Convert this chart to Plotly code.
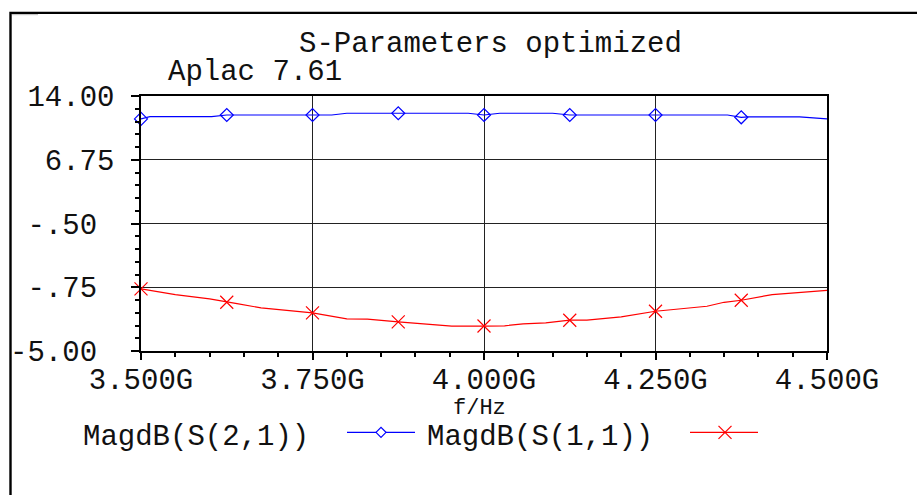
import plotly.graph_objects as go

# ---------------- data ----------------
x_tick_vals = [3.5, 3.75, 4.0, 4.25, 4.5]
x_tick_text = ["3.500G", "3.750G", "4.000G", "4.250G", "4.500G"]
y_tick_vals = [14.0, 6.75, -0.5, -7.75, -15.0]
y_tick_text = ["14.00", "6.75", "-.50\u00a0", "-.75\u00a0", "-5.00\u00a0"]

s21_line_freq = [3.500, 3.513, 3.603, 3.625, 3.778, 3.800, 3.875, 3.977, 4.000,
                 4.023, 4.100, 4.125, 4.250, 4.355, 4.375, 4.385, 4.460, 4.500]
s21_line_val = [11.39, 11.65, 11.65, 11.84, 11.84, 12.04, 12.04, 12.04, 11.84,
                12.04, 12.04, 11.84, 11.84, 11.84, 11.58, 11.62, 11.62, 11.39]

s11_line_freq = [3.500, 3.550, 3.600, 3.625, 3.640, 3.675, 3.750, 3.800, 3.830,
                 3.875, 3.907, 3.953, 4.000, 4.030, 4.057, 4.090, 4.125, 4.150,
                 4.200, 4.250, 4.325, 4.350, 4.375, 4.420, 4.500]
s11_line_val = [-7.94, -8.59, -9.07, -9.46, -9.61, -10.10, -10.66, -11.34, -11.37,
                -11.69, -11.91, -12.18, -12.16, -12.14, -11.91, -11.80, -11.50, -11.48,
                -11.12, -10.48, -9.91, -9.46, -9.23, -8.59, -8.10]

marker_freq = [3.500, 3.625, 3.750, 3.875, 4.000, 4.125, 4.250, 4.375]
s21_marker_val = [11.39, 11.84, 11.84, 12.04, 11.84, 11.84, 11.84, 11.58]
s11_marker_val = [-7.94, -9.46, -10.66, -11.69, -12.16, -11.50, -10.48, -9.23]

series_names = ["MagdB(S(2,1))", "MagdB(S(1,1))"]
title_text = "S-Parameters optimized"
subtitle_text = "Aplac 7.61"
x_title = "f/Hz"

# ---------------- layout geometry (pixels) ----------------
W, H = 917, 495
PL, PR, PT, PB = 141, 827, 96, 351.5
X0, X1 = 3.5, 4.5
Y0, Y1 = -15.0, 14.0


def px(xp):
    return (xp - PL) / (PR - PL)


def py(yp):
    return (PB - yp) / (PB - PT)


FONT = "Liberation Mono"
FS = 29
TXT = "#111111"
BLUE = "#0000ff"
RED = "#ff0000"
GRID = "#222222"
LW = 1.2

fig = go.Figure()

fig.add_trace(go.Scatter(x=s21_line_freq, y=s21_line_val, mode="lines",
                         line=dict(color=BLUE, width=LW), showlegend=False))
fig.add_trace(go.Scatter(x=marker_freq, y=s21_marker_val, mode="markers",
                         marker=dict(symbol="diamond-open", size=10, color=BLUE,
                                     line=dict(width=LW, color=BLUE)),
                         showlegend=False, cliponaxis=False))
fig.add_trace(go.Scatter(x=s11_line_freq, y=s11_line_val, mode="lines",
                         line=dict(color=RED, width=LW), showlegend=False))
fig.add_trace(go.Scatter(x=marker_freq, y=s11_marker_val, mode="markers",
                         marker=dict(symbol="x-thin-open", size=13, color=RED,
                                     line=dict(width=LW, color=RED)),
                         showlegend=False, cliponaxis=False))


def diamond_path(cx, cy, r):
    return (f"M {px(cx - r)} {py(cy)} L {px(cx)} {py(cy - r)} "
            f"L {px(cx + r)} {py(cy)} L {px(cx)} {py(cy + r)} Z")


LEG_Y = 433
shapes = [
    # legend samples
    dict(type="line", xref="paper", yref="paper", x0=px(347), x1=px(415),
         y0=py(LEG_Y), y1=py(LEG_Y), line=dict(color=BLUE, width=LW)),
    dict(type="path", xref="paper", yref="paper", path=diamond_path(381, LEG_Y, 5),
         fillcolor="white", line=dict(color=BLUE, width=LW)),
    dict(type="line", xref="paper", yref="paper", x0=px(690), x1=px(758),
         y0=py(LEG_Y), y1=py(LEG_Y), line=dict(color=RED, width=LW)),
    dict(type="line", xref="paper", yref="paper", x0=px(718.5), x1=px(731.5),
         y0=py(LEG_Y - 6.5), y1=py(LEG_Y + 6.5), line=dict(color=RED, width=LW)),
    dict(type="line", xref="paper", yref="paper", x0=px(718.5), x1=px(731.5),
         y0=py(LEG_Y + 6.5), y1=py(LEG_Y - 6.5), line=dict(color=RED, width=LW)),
    # outer frame
    dict(type="rect", xref="paper", yref="paper", x0=px(10.5), y0=py(12.7),
         x1=px(W + 20), y1=py(H + 20), line=dict(color="#000000", width=2.4)),
    dict(type="line", xref="paper", yref="paper", x0=px(12), x1=px(38),
         y0=py(14.5), y1=py(14.5), line=dict(color="#bbbbbb", width=1)),
]

annotations = [
    dict(text=title_text, x=px(490), y=py(44), xref="paper", yref="paper",
         xanchor="center", yanchor="middle", showarrow=False,
         font=dict(family=FONT, size=FS, color=TXT)),
    dict(text=subtitle_text, x=px(166), y=py(72), xref="paper", yref="paper",
         xanchor="left", yanchor="middle", showarrow=False,
         font=dict(family=FONT, size=FS, color=TXT)),
    dict(text=x_title, x=px(479), y=py(409), xref="paper", yref="paper",
         xanchor="center", yanchor="middle", showarrow=False, borderpad=0,
         font=dict(family=FONT, size=22, color=TXT)),
    dict(text=series_names[0], x=px(82), y=py(438), xref="paper", yref="paper",
         xanchor="left", yanchor="middle", showarrow=False, borderpad=0,
         font=dict(family=FONT, size=FS, color=TXT)),
    dict(text=series_names[1], x=px(426), y=py(438), xref="paper", yref="paper",
         xanchor="left", yanchor="middle", showarrow=False, borderpad=0,
         font=dict(family=FONT, size=FS, color=TXT)),
]

fig.update_layout(
    width=W, height=H,
    margin=dict(l=PL, r=W - PR, t=PT, b=H - PB, autoexpand=False),
    paper_bgcolor="white", plot_bgcolor="white",
    font=dict(family=FONT, size=FS, color=TXT),
    shapes=shapes, annotations=annotations,
    xaxis=dict(range=[X0, X1], tickmode="array", tickvals=x_tick_vals,
               ticktext=x_tick_text, showgrid=True, gridcolor=GRID, gridwidth=1,
               zeroline=False, showline=True, linecolor="#000000", linewidth=1.5,
               mirror=True, ticks="outside", ticklen=7, tickcolor="#000000",
               tickwidth=1.5, tickfont=dict(family=FONT, size=FS, color=TXT),
               ticklabelstandoff=-6, automargin=False,
               minor=dict(ticks="outside", ticklen=4, tickcolor="#000000",
                          tick0=3.5, dtick=0.05, showgrid=False)),
    yaxis=dict(range=[Y0, Y1], tickmode="array", tickvals=y_tick_vals,
               ticktext=y_tick_text, showgrid=True, gridcolor=GRID, gridwidth=1,
               zeroline=False, showline=True, linecolor="#000000", linewidth=1.5,
               mirror=True, ticks="outside", ticklen=8, tickcolor="#000000",
               tickwidth=1.5, tickfont=dict(family=FONT, size=FS, color=TXT),
               ticklabelstandoff=11, automargin=False,
               minor=dict(ticks="outside", ticklen=4, tickcolor="#000000",
                          tick0=-15, dtick=1.45, showgrid=False)),
)

fig.write_html("out.html")
